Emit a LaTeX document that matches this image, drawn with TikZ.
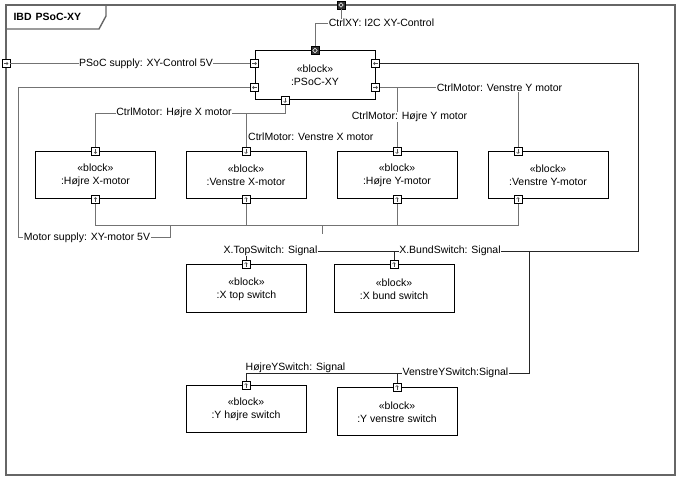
\documentclass[tikz,border=0pt]{standalone}
\usepackage{fontspec}
\setmainfont{Liberation Sans}
\usetikzlibrary{positioning, calc, arrows.meta}

\begin{document}
\begin{tikzpicture}[
    x=1pt, y=-1pt,
    font=\fontsize{10.5}{13}\selectfont,
    block/.style={rectangle, draw, line width=1pt, minimum width=120pt, minimum height=47pt, align=center, inner sep=0pt},
    port/.style={rectangle, draw, fill=white, line width=0.8pt, minimum size=8pt, inner sep=0pt},
    parrow/.style={draw=black!70, line width=0.5pt, -{Straight Barb[length=1.6pt, width=3pt]}},
    portd/.style={port, path picture={\draw[parrow] ($(path picture bounding box.north)+(0pt,-1.5pt)$) -- ($(path picture bounding box.south)+(0pt,1.5pt)$);}},
    portu/.style={port, path picture={\draw[parrow] ($(path picture bounding box.south)+(0pt,1.5pt)$) -- ($(path picture bounding box.north)+(0pt,-1.5pt)$);}},
    portr/.style={port, path picture={\draw[parrow] ($(path picture bounding box.west)+(1.5pt,0pt)$) -- ($(path picture bounding box.east)+(-1.5pt,0pt)$);}},
    portl/.style={port, path picture={\draw[parrow] ($(path picture bounding box.east)+(-1.5pt,0pt)$) -- ($(path picture bounding box.west)+(1.5pt,0pt)$);}},
    cport/.style={port, fill=black!80, path picture={\draw[white, line width=0.5pt] (path picture bounding box.center) +(0pt,2.2pt) -- +(2.2pt,0pt) -- +(0pt,-2.2pt) -- +(-2.2pt,0pt) -- cycle;}},
    conn/.style={draw=black!55, line width=1pt},
    sig/.style={draw=black!85, line width=0.8pt},
    lbl/.style={fill=white, inner sep=0.5pt},
    frame/.style={draw=black!60, line width=1.4pt}
    ]

    % Frame
    \useasboundingbox (0,0) rectangle (678,478);
    \draw[frame] (6,5) rectangle (675,475);
    \draw[frame] (6,29) -- (99,29) -- (106,16) -- (106,5);
    \node[anchor=west, font=\fontsize{10.5}{13}\selectfont\bfseries] (title) at (10,17) {IBD\hspace{4pt}PSoC-XY};

    % Define the blocks
    \node[block, minimum height=49pt] (psoc) at (315,75.5) {«block»\\:PSoC-XY};
    \node[block] (hxm) at (95.5,175.5) {«block»\\:Højre X-motor};
    \node[block] (vxm) at (246,175.5) {«block»\\:Venstre X-motor};
    \node[block] (hym) at (397,175.5) {«block»\\:Højre Y-motor};
    \node[block] (vym) at (548,175.5) {«block»\\:Venstre Y-motor};
    \node[block, minimum height=48pt] (xts) at (246.5,289) {«block»\\:X top switch};
    \node[block, minimum height=48pt] (xbs) at (394,289) {«block»\\:X bund switch};
    \node[block] (yhs) at (246,409.5) {«block»\\:Y højre switch};
    \node[block, minimum height=48pt] (yvs) at (397,412) {«block»\\:Y venstre switch};

    % Ports
    \node[portr] (frSup) at (6,63.5) {};
    \node[cport] (frCtl) at (341,5) {};
    \node[cport] (psocCtl) at (psoc.north) {};
    \node[portr] (psocSup) at ($(psoc.west)+(0,-12)$) {};
    \node[portl] (psocMot) at ($(psoc.west)+(0,12)$) {};
    \node[portl] (psocSw) at ($(psoc.east)+(0,-12)$) {};
    \node[portr] (psocY) at ($(psoc.east)+(0,12)$) {};
    \node[portd] (psocX) at ($(psoc.south)+(-30,0)$) {};
    \node[portd] (hxmIn) at (hxm.north) {};
    \node[portu] (hxmOut) at (hxm.south) {};
    \node[portd] (vxmIn) at (vxm.north) {};
    \node[portu] (vxmOut) at (vxm.south) {};
    \node[portd] (hymIn) at (hym.north) {};
    \node[portu] (hymOut) at (hym.south) {};
    \node[portd] (vymIn) at ($(vym.north)+(-30,0)$) {};
    \node[portu] (vymOut) at ($(vym.south)+(-30,0)$) {};
    \node[portu] (xtsIn) at ($(xts.north)+(-0.5,0)$) {};
    \node[portu] (xbsIn) at (xbs.north) {};
    \node[portu] (yhsIn) at (yhs.north) {};
    \node[portu] (yvsIn) at (yvs.north) {};

    % Supply and control
    \draw[conn] (frSup) -- (psocSup);
    \draw[conn] (frCtl) -- ++(0,19) -| (psocCtl);
    \coordinate (mcorner) at (18,238);
    \coordinate (mjoin) at (170,226);
    \draw[conn] (psocMot) -| (mcorner) -| (mjoin);

    % Motor bus
    \coordinate (bus) at (0,226);
    \coordinate (stub) at (322,234);
    \draw[conn] (hxmOut) |- (bus -| vymOut) -- (vymOut);
    \draw[conn] (vxmOut) -- (vxmOut |- bus);
    \draw[conn] (hymOut) -- (hymOut |- bus);
    \draw[conn] (stub |- bus) -- (stub);

    % Motor control
    \draw[conn] (psocX) -- ++(0,13) -| (hxmIn);
    \draw[conn] (psocX) -- ++(0,13) -| (vxmIn);
    \draw[conn] (psocY) -| (hymIn);
    \draw[conn] (psocY) -| (vymIn);

    % Switch signals
    \coordinate (swR) at (638,251);
    \coordinate (ysw) at (529,373);
    \draw[sig] (psocSw) -| (swR) -| (xtsIn);
    \draw[sig] (xbsIn) -- (xbsIn |- swR);
    \draw[sig] (ysw |- swR) -- (ysw) -| (yvsIn);
    \draw[sig] (yvsIn |- ysw) -| (yhsIn);

    % Labels
    \node[lbl] (lsup) at (146,63.5) {PSoC supply: XY-Control 5V};
    \node[lbl] (lctl) at (381.5,23) {CtrlXY: I2C XY-Control};
    \node[lbl] (lmsup) at (87,238) {Motor supply: XY-motor 5V};
    \node[lbl] (lhx) at (174,113) {CtrlMotor: Højre X motor};
    \node[anchor=west, inner sep=0pt] (lvx) at (248,137) {CtrlMotor: Venstre X motor};
    \node[lbl] (lhy) at (409.5,117) {CtrlMotor: Højre Y motor};
    \node[lbl] (lvy) at (499.5,87.5) {CtrlMotor: Venstre Y motor};
    \node[lbl] (lxt) at (270.5,251) {X.TopSwitch: Signal};
    \node[lbl] (lxb) at (450,251) {X.BundSwitch: Signal};
    \node[lbl] (lyh) at (295.5,368) {HøjreYSwitch: Signal};
    \node[lbl] (lyv) at (455.5,373) {VenstreYSwitch:Signal};

\end{tikzpicture}
\end{document}
